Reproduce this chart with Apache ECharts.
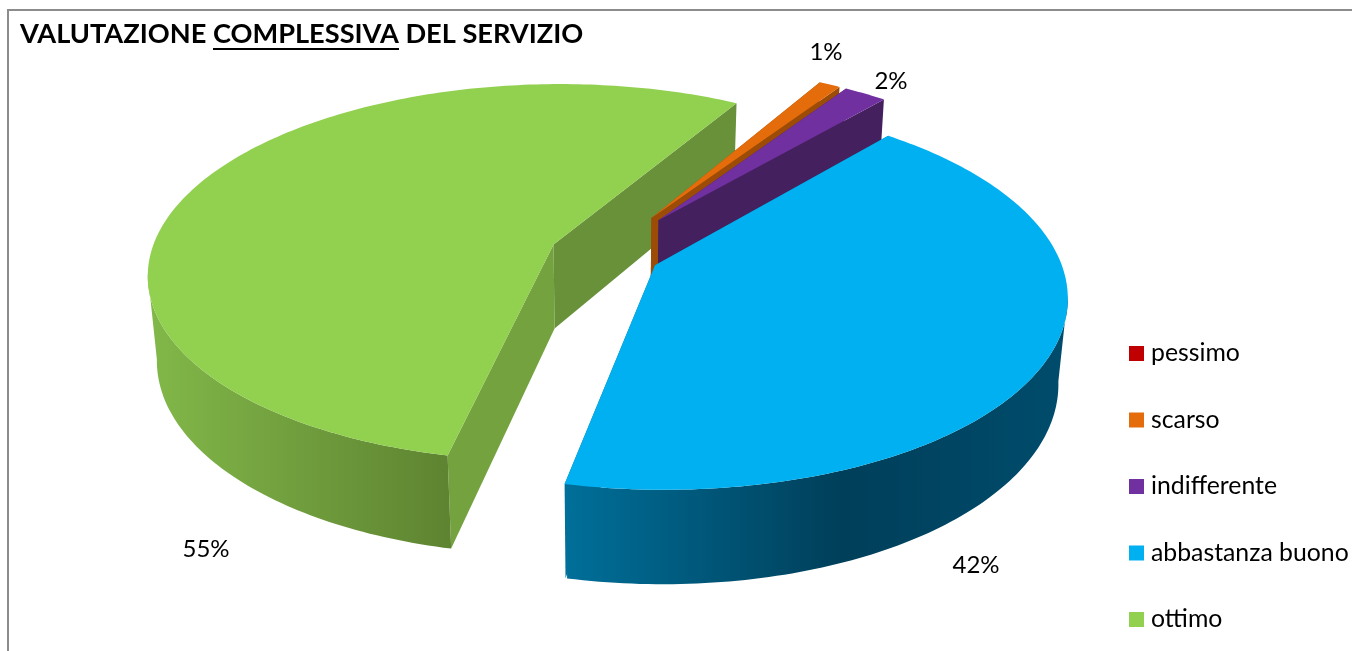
<!DOCTYPE html>
<html>
<head>
<meta charset="utf-8">
<title>Valutazione complessiva del servizio</title>
<style>
	html, body { margin: 0; padding: 0; background: #fff; }
	#main { width: 1352px; height: 651px; }
</style>
<script src="https://cdn.jsdelivr.net/npm/echarts@6/dist/echarts.min.js"></script>
</head>
<body>
<div id="main"></div>
<script>
(function(){

	var categories = ["pessimo", "scarso", "indifferente", "abbastanza buono", "ottimo"];
	var values = [0, 1, 2, 42, 55];

	// how far each slice is pulled out, in pie radii
	var explode = [0.23, 0.23, 0.23, 0.14, 0.135];

	var topColors = ["#C00000", "#E46C0A", "#7030A0", "#00B0F0", "#92D050"];
	var startCutColors = ["#800000", "#9C4C07", "#45205F", "#006F99", "#73A23F"];
	var endCutColors = ["#800000", "#9C4C07", "#45205F", "#006F99", "#68913A"];
	var wallStops = {
		3: [[0, "#006F99"], [0.55, "#003F5A"], [1, "#004C6C"]],
		4: [[0, "#82B849"], [1, "#5E8331"]]
	};
	// painter's order: the big green slice sits behind the small ones
	var drawOrder = [1, 2, 3, 4, 0];

	// perspective model of the pie, in pixels
	var pie = {cx: 604, cy: 253.5, a: 403, b: 187, p: 0.15, q: 0.02, h: 86, firstAngle: 30};

	var total = values.reduce(function(s, v){ return s + v; }, 0);

	function project(x, y, z){
		var w = 1 - pie.p * y + pie.q * z;
		return [pie.cx + pie.a * x / w, pie.cy + (pie.b * y + pie.h * z) / w];
	}

	function sliceAngles(index){
		var start = pie.firstAngle;
		for(var i = 0; i < index; i++){
			start += values[i] / total * 360;
		}
		return [start, start + values[index] / total * 360];
	}

	function renderSlice(index){
		var angles = sliceAngles(index);
		var from = angles[0], to = angles[1];
		if(values[index] === 0){
			return {type: "group", children: []};
		}
		var mid = (from + to) / 2 * Math.PI / 180;
		var ox = Math.sin(mid) * explode[index];
		var oy = -Math.cos(mid) * explode[index];

		function rim(deg, z){
			var r = deg * Math.PI / 180;
			return project(ox + Math.sin(r), oy - Math.cos(r), z);
		}

		var topPoints = [project(ox, oy, 0)];
		var wallTop = [], wallBottom = [];
		for(var d = from; d <= to + 0.001; d += 1){
			var deg = Math.min(d, to);
			topPoints.push(rim(deg, 0));
			if(Math.cos(deg * Math.PI / 180) <= -pie.p){
				wallTop.push(rim(deg, 0));
				wallBottom.unshift(rim(deg, 1));
			}
		}
		topPoints.push(rim(to, 0));

		var children = [];
		children.push({
			type: "polygon",
			shape: {points: [project(ox, oy, 0), rim(to, 0), rim(to, 1), project(ox, oy, 1)]},
			style: {fill: endCutColors[index]}
		});
		children.push({
			type: "polygon",
			shape: {points: [project(ox, oy, 0), rim(from, 0), rim(from, 1), project(ox, oy, 1)]},
			style: {fill: startCutColors[index]}
		});
		if(wallTop.length > 1 && wallStops[index]){
			children.push({
				type: "polygon",
				shape: {points: wallTop.concat(wallBottom)},
				style: {
					fill: new echarts.graphic.LinearGradient(0, 0, 1, 0, wallStops[index].map(function(s){
						return {offset: s[0], color: s[1]};
					}))
				}
			});
		}
		children.push({
			type: "polygon",
			shape: {points: topPoints},
			style: {fill: topColors[index]}
		});
		return {type: "group", children: children};
	}

	var series = categories.map(function(name, i){
		return {
			type: "custom",
			name: name,
			coordinateSystem: "none",
			silent: true,
			z: 2 + drawOrder[i],
			itemStyle: {color: topColors[i]},
			data: [[values[i]]],
			renderItem: function(){
				return renderSlice(i);
			}
		};
	});

	function percentLabel(index, x, y){
		return {
			type: "text",
			x: x,
			y: y,
			silent: true,
			style: {
				text: values[index] + "%",
				fill: "#000",
				font: "24px Lato",
				align: "center",
				verticalAlign: "middle"
			}
		};
	}

	var chart = echarts.init(document.getElementById("main"));
	chart.setOption({
		animation: false,
		backgroundColor: "#fff",
		title: {
			text: "VALUTAZIONE COMPLESSIVA DEL SERVIZIO",
			left: 20,
			top: 21,
			padding: 0,
			textStyle: {fontFamily: "Lato", fontWeight: "bold", fontSize: 27.2, color: "#000"}
		},
		legend: {
			orient: "vertical",
			left: 1129,
			top: 341,
			padding: 0,
			icon: "rect",
			itemWidth: 15,
			itemHeight: 15,
			itemGap: 41.5,
			selectedMode: false,
			data: categories,
			textStyle: {fontFamily: "Lato", fontSize: 24.8, color: "#000", padding: [0, 0, 0, 2]}
		},
		graphic: [
			{
				type: "polyline",
				silent: true,
				shape: {points: [[8, 651], [8, 10], [1352, 10]]},
				style: {stroke: "#8C8C8C", lineWidth: 2, fill: null}
			},
			{
				type: "line",
				silent: true,
				shape: {x1: 213, y1: 49, x2: 399, y2: 49},
				style: {stroke: "#000", lineWidth: 2}
			},
			percentLabel(1, 826, 52),
			percentLabel(2, 891, 81),
			percentLabel(3, 976, 565),
			percentLabel(4, 206, 549)
		],
		series: series
	});

})();
</script>
</body>
</html>
